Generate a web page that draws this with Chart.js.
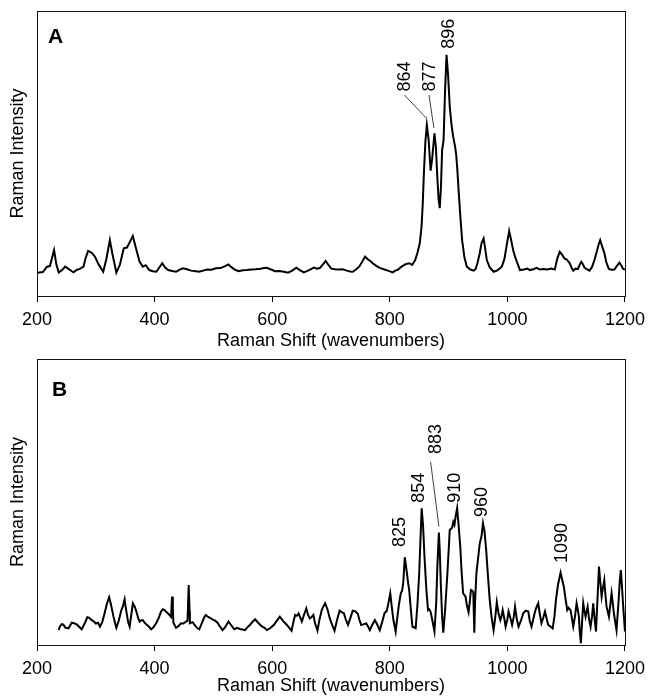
<!DOCTYPE html>
<html>
<head>
<meta charset="utf-8">
<title>Raman spectra</title>
<script src="https://cdn.jsdelivr.net/npm/chart.js@4.4.1/dist/chart.umd.min.js"></script>
<style>
  body { margin: 0; background: #fff; }
  canvas { position: absolute; left: 0; }
</style>
</head>
<body>
<canvas id="chartA" width="652" height="352" style="top:0"></canvas>
<canvas id="chartB" width="652" height="348" style="top:352px"></canvas>
<script>
// Spectrum A: Raman shift (cm-1) and intensity (arbitrary units, 0-100 of the frame)
const shiftA = [200, 210, 217, 222, 229, 233, 237, 243, 248, 255, 262, 268, 273, 279, 283, 287, 293, 298.6, 305, 312.6,
  318, 323.9, 328, 335, 341, 347.5, 353, 358, 363, 368, 374.5, 380, 385, 391, 397, 403, 408, 413, 418, 423,
  430, 436.5, 442, 448, 455, 462, 470, 476, 484, 490, 497, 504, 512, 520, 525.5, 530, 537, 543, 550, 557,
  565, 572, 580, 586, 591, 597, 605, 612, 620, 627, 634, 641, 647, 653.5, 660, 666, 671, 676, 681, 686,
  691, 696, 700.5, 707, 713, 720, 727, 732, 737, 742, 748, 753, 758, 763, 767, 771, 777, 784, 791, 798,
  805, 810, 813, 820, 827, 833, 838, 843, 847, 851, 854, 856, 858, 860.5, 863, 866, 869.4, 872, 876, 878.5,
  880.5, 883, 885, 887, 889, 891.5, 894, 896.5, 899, 902, 905, 907.8, 911, 913, 915, 917, 920, 923, 927, 931,
  937, 942.7, 946, 949, 953, 956, 959.6, 962, 965, 970, 976.5, 983, 990.5, 995, 999, 1003, 1006, 1010, 1013, 1017,
  1021.5, 1028, 1034, 1038, 1044, 1050, 1055, 1061, 1068, 1074, 1080.6, 1085, 1089, 1093, 1097, 1101, 1106, 1109, 1112, 1116,
  1120, 1123, 1125.7, 1128, 1131, 1135, 1139.7, 1144, 1148, 1152, 1155, 1157.8, 1161, 1165, 1168, 1172.5, 1177, 1182, 1186, 1190.5,
  1194, 1197, 1200];
const intensityA = [8.2, 8.4, 10.3, 10.5, 16.1, 11, 8.2, 9.2, 10.3, 9.3, 8.3, 9.2, 9.5, 10.3, 13.5, 15.8, 15.2, 13.8, 11, 8.5,
  13, 19.6, 15, 8.2, 11, 16.7, 17, 19, 21, 17, 12, 10.3, 10.8, 9.1, 8.7, 8.5, 10, 11.5, 10, 9.1,
  8.8, 8.5, 9.2, 9.7, 9.4, 8.9, 8.7, 8.5, 9, 9.3, 9.2, 9.7, 9.8, 10.5, 11.1, 10.2, 9.2, 8.7, 9, 9.1,
  9.3, 9.4, 9.6, 9.8, 9.9, 9.4, 8.7, 8.8, 8.5, 8.2, 8.9, 9.9, 9.1, 8.3, 8.8, 9.4, 10, 9.6, 9.8, 11,
  12.3, 10.8, 9.6, 9.4, 9.3, 9.4, 8.9, 8.6, 8.5, 9.2, 10.3, 12, 13.8, 12.8, 12.3, 11.5, 10.6, 9.8, 9.3, 8.8,
  8.3, 9, 9.1, 10.3, 11.2, 11.5, 10.9, 12.5, 15.1, 18.5, 24.3, 32, 43, 54, 60, 55, 44, 48, 57.1, 52,
  43, 34, 30.8, 38, 51.2, 54.7, 72, 84.6, 78, 66.4, 60, 55.9, 52.5, 49.5, 44, 37.2, 28, 19.6, 13.5, 10.3,
  9.3, 8.9, 9.5, 11.5, 15, 18.5, 20.2, 17, 12.6, 10, 8.5, 9, 10.3, 13, 18, 22.8, 20, 16, 13.8, 11.5,
  9.1, 9.3, 9.6, 9.1, 9.4, 9.9, 9.3, 9.5, 9.3, 9.6, 9.3, 13.2, 15.5, 14.5, 13.2, 12.8, 11.5, 10, 8.9, 9.6,
  9.5, 11, 12, 11.3, 10, 9.4, 8.9, 10.2, 12.6, 15.5, 18, 19.6, 17.5, 15, 12, 9.5, 9.2, 9.3, 10.5, 11.7,
  10.6, 9.5, 9.3];

// Spectrum B
const shiftB = [236.6, 239, 242, 245, 248, 253.6, 259, 263, 267.6, 272, 276, 281, 285.6, 289, 293, 297, 300, 304, 307, 311,
  315, 319, 322.7, 326, 330, 333, 335, 339, 343.5, 346, 349, 351, 353, 355, 357.6, 360, 363, 366, 369, 372,
  374.5, 377, 380, 383, 386, 390, 394, 398, 402.7, 407, 411, 414, 417, 420, 422.6, 425, 428, 429.7, 431, 432,
  436.5, 440, 445, 449, 453.6, 456, 458, 459.5, 460, 464.7, 468, 472, 476, 480, 484, 487, 491, 495.7, 500, 503,
  507, 511, 515.6, 520, 525.7, 530, 535.5, 540, 545, 549.5, 554, 557, 562, 567, 571, 576, 582.5, 587, 591, 596,
  602.6, 608, 613, 618, 625, 629, 633, 636, 639, 642, 645, 648, 650.5, 654, 658, 661, 664, 667, 670, 673,
  677, 680, 684, 687, 690, 694, 698, 702, 706, 710, 714.6, 718, 722, 725, 729, 733, 737, 741, 745.7, 748,
  751.4, 755, 760, 763, 766, 770, 774.6, 779, 783, 787, 791, 795, 798, 800.8, 803, 806, 810, 813, 815.5, 818.7,
  821, 823, 825.5, 828, 831, 833, 836, 838.5, 841, 844, 847, 850, 852, 854.2, 856.5, 859, 862, 865, 867, 869.5,
  872, 876, 879, 881, 883.5, 885, 887, 889, 891, 894, 898, 902, 906, 908, 910, 912, 914.5, 917, 920, 922,
  924.7, 928.7, 931, 934, 936, 938, 940, 942, 943.8, 945, 947.3, 950, 953, 956, 958.5, 961, 964, 967, 970, 973,
  976.5, 979, 982, 985, 988, 990, 992, 995, 997, 1000, 1002, 1005, 1008, 1011, 1013, 1016, 1019, 1023, 1027, 1031,
  1035.6, 1038, 1041, 1044, 1047, 1050, 1052.5, 1055, 1058, 1061, 1064, 1067, 1069.5, 1073, 1077, 1080, 1082.6, 1086, 1090.5, 1093,
  1096, 1099, 1101.8, 1104, 1107.5, 1110, 1112, 1115, 1117.7, 1120, 1121.6, 1123, 1125, 1127, 1129, 1131, 1133, 1135, 1136.5, 1139,
  1141.5, 1144, 1146, 1148, 1150.7, 1153, 1155.8, 1158, 1160.3, 1162.5, 1164.8, 1167, 1168.7, 1172.7, 1175, 1177.2, 1179, 1181.1, 1185.6, 1188,
  1189.6, 1191, 1193, 1195, 1197, 1200];
const intensityB = [5.2, 6.5, 7.3, 7.1, 6.1, 5.8, 7.8, 7.6, 7.2, 6.3, 5.5, 7.5, 9.7, 9.5, 8.7, 8.2, 7.5, 7.8, 6.4, 8,
  11.1, 14.5, 16.7, 14, 10, 7.5, 6, 8.5, 12.2, 13.5, 16, 13, 10.5, 8, 6.4, 10, 14.6, 13.5, 11.7, 9.5,
  8.2, 8.6, 8.7, 7.8, 7.2, 6.5, 5.5, 6.2, 7.6, 9.5, 11.7, 12.5, 12.2, 11.5, 11.1, 10.5, 9.8, 16.9, 13, 7.8,
  6, 6.5, 7.6, 7.5, 8.2, 8.5, 21, 12, 7.6, 8, 7, 6, 5.5, 7.5, 9.5, 10.5, 9.8, 9.3, 8.8, 8.5,
  7.8, 6.5, 5.2, 6.2, 8.2, 7, 5.5, 6, 5.6, 5.4, 5.2, 6, 7, 8.2, 9, 7.8, 6.5, 6, 5.2, 5.8,
  7, 8.5, 9.9, 8.5, 7, 6, 5, 8, 10.5, 10.2, 11, 9.5, 8.2, 10.5, 12.8, 10.5, 9.3, 9.8, 10.5, 7.5,
  5, 8.5, 12, 13.5, 14.6, 12.5, 9.3, 7, 5, 8.5, 12, 11.5, 11.1, 9, 7, 9.5, 12, 11.8, 10.9, 9,
  7, 7.2, 7.6, 6.5, 5.2, 7, 8.7, 7, 5.2, 8, 11.1, 12, 15, 18.1, 14, 9, 4.7, 10, 14, 18.1,
  19, 22, 30.7, 27, 22, 19.2, 12, 6.4, 6.2, 5.9, 14, 25, 36, 47.8, 42, 31, 20, 12.2, 12.5, 11.5,
  9, 4.7, 15, 28, 39.3, 33, 20, 10, 4.3, 12, 25, 40.2, 41, 43, 42, 45, 47.8, 42, 34, 26,
  18.1, 17, 14, 11.5, 15, 19.2, 19, 18.5, 4.3, 15, 25, 30, 35.5, 38, 42.6, 40, 33, 24, 15.7, 10,
  5.2, 9, 15, 11, 8.7, 10, 12.2, 9, 6.4, 9, 11.7, 9.5, 7, 10, 13.4, 9, 6.4, 8.5, 11.1, 12,
  11.7, 8.5, 6.4, 9, 11.7, 13.5, 14.6, 11, 7.6, 9.5, 11.7, 9, 7, 6.5, 5.8, 10, 15.7, 21, 25.3, 23,
  20.4, 16, 12.2, 13, 12.2, 9, 6.4, 10, 14.6, 12, 9.9, 5, 0.6, 8, 14.6, 12, 9.9, 12, 13.4, 9,
  6.4, 10, 14.6, 10, 4.7, 15, 27.4, 22, 16.9, 20, 22.7, 17, 13.4, 9.9, 14, 18.1, 15, 11.1, 5.2, 12,
  16.9, 22, 26.2, 20, 13.4, 4.7];

const xTicks = [200, 400, 600, 800, 1000, 1200];
const xTitle = 'Raman Shift (wavenumbers)';
const yTitle = 'Raman Intensity';

// peak labels, placed in data units (rotated text) plus thin leader lines
const peaksA = [
  { text: '864', x: 826, y: 77 },
  { text: '877', x: 869, y: 77 },
  { text: '896', x: 901, y: 92 }
];
const leadersA = [[825, 70.5, 861.7, 62.5], [866.7, 70.5, 875, 59]];
const peaksB = [
  { text: '825', x: 818, y: 39.5 },
  { text: '854', x: 850, y: 55 },
  { text: '883', x: 878, y: 72 },
  { text: '910', x: 911.7, y: 55 },
  { text: '960', x: 956.8, y: 50 },
  { text: '1090', x: 1093.6, y: 35.7 }
];
const leadersB = [[869.4, 64.1, 883.6, 41.4]];

const FONT = "'Liberation Sans', Arial, sans-serif";
Chart.defaults.font.family = FONT;
Chart.defaults.font.size = 18;
Chart.defaults.color = '#000';

// frame, panel letter and peak annotations
const panelDecor = {
  id: 'panelDecor',
  afterDatasetsDraw(chart, args, opts) {
    const { ctx, chartArea: a, scales: { x, y } } = chart;
    ctx.save();
    ctx.strokeStyle = '#111';
    ctx.lineWidth = 1;
    ctx.strokeRect(Math.round(a.left) + 0.5, Math.round(a.top) + 0.5,
      Math.round(a.right - a.left), Math.round(a.bottom - a.top));

    ctx.fillStyle = '#000';
    ctx.font = 'bold 21px ' + FONT;
    ctx.textAlign = 'left';
    ctx.textBaseline = 'alphabetic';
    ctx.fillText(opts.letter, a.left + opts.letterDx, a.top + opts.letterDy);

    ctx.font = '18px ' + FONT;
    ctx.textAlign = 'center';
    ctx.textBaseline = 'middle';
    opts.peaks.forEach(p => {
      ctx.save();
      ctx.translate(x.getPixelForValue(p.x), y.getPixelForValue(p.y));
      ctx.rotate(-Math.PI / 2);
      ctx.fillText(p.text, 0, 0);
      ctx.restore();
    });

    ctx.lineWidth = 0.8;
    opts.leaders.forEach(l => {
      ctx.beginPath();
      ctx.moveTo(x.getPixelForValue(l[0]), y.getPixelForValue(l[1]));
      ctx.lineTo(x.getPixelForValue(l[2]), y.getPixelForValue(l[3]));
      ctx.stroke();
    });
    ctx.restore();
  }
};

function makeSpectrum(canvasId, shifts, values, o) {
  const points = shifts.map((s, i) => ({ x: s, y: values[i] }));
  return new Chart(document.getElementById(canvasId), {
    type: 'line',
    data: {
      datasets: [{
        data: points,
        borderColor: '#000',
        borderWidth: 2,
        pointRadius: 0,
        tension: 0,
        fill: false
      }]
    },
    options: {
      responsive: false,
      animation: false,
      layout: { padding: { top: o.padTop, right: 23, left: 0, bottom: 0 } },
      scales: {
        x: {
          type: 'linear',
          min: 200,
          max: 1200,
          afterBuildTicks: s => { s.ticks = xTicks.map(v => ({ value: v })); },
          afterFit: s => { s.height = o.xHeight; },
          ticks: { padding: 7, callback: v => String(v), maxRotation: 0 },
          grid: { display: true, drawOnChartArea: false, drawTicks: true, tickLength: 6, tickColor: '#000' },
          border: { display: false },
          title: { display: true, text: xTitle, padding: { top: 0, bottom: o.titlePad } }
        },
        y: {
          min: 0,
          max: 100,
          afterFit: s => { s.width = 37; },
          ticks: { display: false },
          grid: { display: false },
          border: { display: false },
          title: { display: true, text: yTitle, padding: { top: 7, bottom: 0 } }
        }
      },
      plugins: {
        legend: { display: false },
        tooltip: { enabled: false },
        panelDecor: o.decor
      }
    },
    plugins: [panelDecor]
  });
}

makeSpectrum('chartA', shiftA, intensityA, {
  padTop: 11, xHeight: 56, titlePad: 0,
  decor: { letter: 'A', letterDx: 11, letterDy: 32, peaks: peaksA, leaders: leadersA }
});
makeSpectrum('chartB', shiftB, intensityB, {
  padTop: 7, xHeight: 55, titlePad: 3,
  decor: { letter: 'B', letterDx: 15, letterDy: 37, peaks: peaksB, leaders: leadersB }
});
</script>
</body>
</html>
